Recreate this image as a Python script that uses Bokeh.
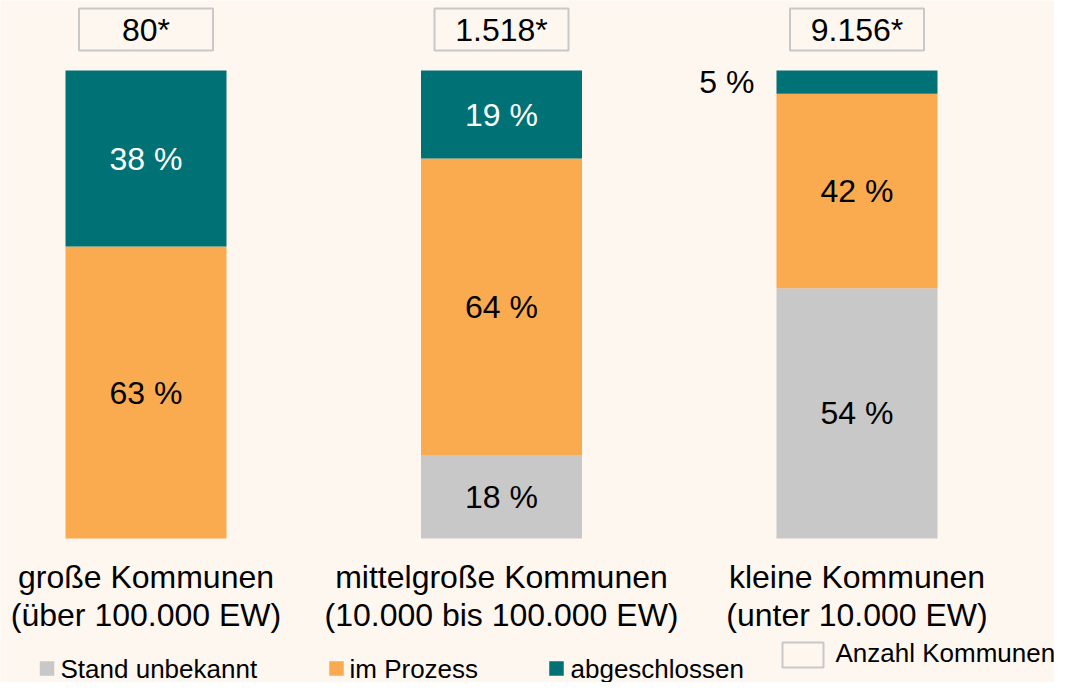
from bokeh.plotting import figure
from bokeh.models import ColumnDataSource, Range1d
from bokeh.core.properties import value
from bokeh.embed import file_html
from bokeh.resources import INLINE

# ---------------- data ----------------
categories = ["große Kommunen", "mittelgroße Kommunen", "kleine Kommunen"]
subtitles = ["(über 100.000 EW)", "(10.000 bis 100.000 EW)", "(unter 10.000 EW)"]
counts = ["80*", "1.518*", "9.156*"]
stand_unbekannt = [0, 18, 54]
im_prozess = [63, 64, 42]
abgeschlossen = [38, 19, 5]
series_names = ["Stand unbekannt", "im Prozess", "abgeschlossen"]
count_legend = "Anzahl Kommunen"

# ---------------- styling ----------------
BG = "#FEF7F0"
COLORS = ["#C8C8C8", "#FBAB4F", "#007174"]
TEXT_COLORS = ["#000000", "#000000", "#FFFFFF"]
FONT = value("Liberation Sans")

W, H = 1054, 682
x_start, x_end = -0.40928, 2.55556
y_start, y_end = -31.08, 116.107


def px(fx):
    return x_start + fx * (x_end - x_start) / W


def py(fy):
    return y_end - fy * (y_end - y_start) / H


p = figure(width=W, height=H, output_backend="svg", toolbar_location=None,
           x_range=Range1d(x_start, x_end), y_range=Range1d(y_start, y_end),
           min_border=0, x_axis_location=None, y_axis_location=None)
p.background_fill_color = BG
p.border_fill_color = BG
p.outline_line_color = None
p.xgrid.visible = False
p.ygrid.visible = False

xs = list(range(len(categories)))
bar_w = 161 / 355.5

src = ColumnDataSource(dict(x=xs, s0=stand_unbekannt, s1=im_prozess, s2=abgeschlossen))
p.vbar_stack(["s0", "s1", "s2"], x="x", width=bar_w, color=COLORS, line_color=None, source=src)

# segment labels
series = [stand_unbekannt, im_prozess, abgeschlossen]
for i in xs:
    bottom = 0
    for k, vals in enumerate(series):
        v = vals[i]
        if v > 0:
            mid = bottom + v / 2
            if v < 10:
                p.text(x=[i - bar_w / 2], y=[mid], text=[f"{v} %"], text_align="right",
                       text_baseline="middle", x_offset=-22, text_font=FONT,
                       text_font_size="32px", text_color="#000000")
            else:
                p.text(x=[i], y=[mid], text=[f"{v} %"], text_align="center",
                       text_baseline="middle", text_font=FONT, text_font_size="32px",
                       text_color=TEXT_COLORS[k])
        bottom += v

# count boxes
yb = py(29)
p.rect(x=xs, y=[yb] * 3, width=134, height=42, width_units="screen", height_units="screen",
       fill_color=BG, line_color="#C8C8C8", line_width=2)
p.text(x=xs, y=[yb] * 3, text=counts, text_align="center", text_baseline="middle",
       text_font=FONT, text_font_size="32px", text_color="#000000")

# category labels
p.text(x=xs, y=[py(576)] * 3, text=categories, text_align="center", text_baseline="middle",
       text_font=FONT, text_font_size="32px", text_color="#000000")
p.text(x=xs, y=[py(614)] * 3, text=subtitles, text_align="center", text_baseline="middle",
       text_font=FONT, text_font_size="32px", text_color="#000000")

# legend (manual)
sq_centers = [46.5, 336, 556]
txt_starts = [60, 349, 570]
ly = 668
for k in range(3):
    p.rect(x=[px(sq_centers[k])], y=[py(ly)], width=14.5, height=14.5, width_units="screen",
           height_units="screen", fill_color=COLORS[k], line_color=None)
    p.text(x=[px(txt_starts[k])], y=[py(ly)], text=[series_names[k]], text_align="left",
           text_baseline="middle", text_font=FONT, text_font_size="26px",
           text_color="#000000")
p.rect(x=[px(802.5)], y=[py(654.5)], width=41, height=25, width_units="screen",
       height_units="screen", fill_color=BG, line_color="#C8C8C8", line_width=2)
p.text(x=[px(835)], y=[py(652)], text=[count_legend], text_align="left",
       text_baseline="middle", text_font=FONT, text_font_size="26px", text_color="#000000")

html = file_html(p, INLINE)
html = html.replace("<body>", '<body style="background-color:#FEF7F0;">', 1)
open("out.html", "w").write(html)
